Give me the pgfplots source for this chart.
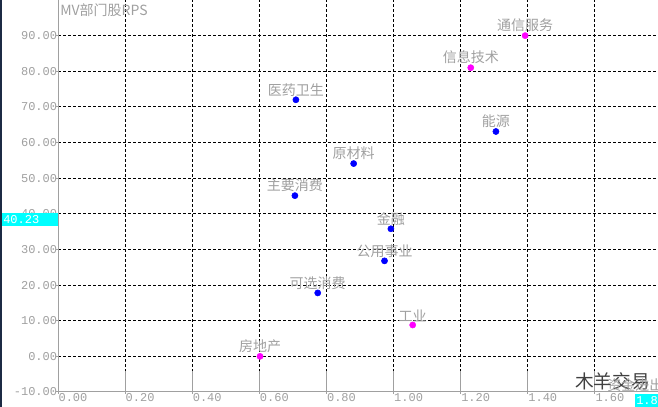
\documentclass[border=0pt]{standalone}
\usepackage{pgfplots}
\pgfplotsset{compat=1.18}
\usepackage{pgfplotstable}
\usepackage{fontspec}
\setmainfont{Liberation Sans}
\newfontfamily\cjk{Noto Sans CJK SC}
\newfontfamily\mono{Liberation Mono}
\definecolor{lbl}{HTML}{A0A0A0}
\definecolor{navy}{HTML}{1C2A44}
\definecolor{mblue}{HTML}{0000FF}
\definecolor{mmag}{HTML}{FF00FF}
\definecolor{cyanbox}{HTML}{00FFFF}

\pgfplotstableread{
x y label
0.709 72.0 医药卫生
0.881 54.1 原材料
0.706 45.1 主要消费
0.992 35.8 金融
0.973 26.8 公用事业
0.774 17.8 可选消费
1.305 63.1 能源
}\bluedata

\pgfplotstableread{
x y label
0.602 0.0 房地产
1.057 8.8 工业
1.230 81.0 信息技术
1.392 90.0 通信服务
}\magdata

\begin{document}
\begin{tikzpicture}
\fill[white] (0pt,0pt) rectangle (493.5pt,305.25pt);
\useasboundingbox (0pt,0pt) rectangle (493.5pt,305.25pt);
\fill[navy] (0pt,0pt) rectangle (1.5pt,305.25pt);
\begin{axis}[
  at={(43.5pt,11.25pt)}, anchor=south west,
  scale only axis, width=450pt, height=294pt,
  xmin=0, xmax=1.788, ymin=-10, ymax=100,
  xtick={0,0.2,...,1.6},
  ytick={-10,0,...,90},
  axis x line=bottom, axis y line=left,
  axis line style={-, draw=lbl, line width=0.75pt},
  tick style={draw=lbl, line width=0.75pt},
  major tick length=1.5pt, tick align=outside,
  grid=major,
  major grid style={draw=black, line width=0.75pt, dash pattern=on 2.25pt off 1.5pt},
  clip=false,
  /pgf/number format/.cd, fixed, fixed zerofill, precision=2, assume math mode=true,
  /pgfplots/.cd,
  yticklabel style={font=\mono\fontsize{9}{9}\selectfont, text=lbl, anchor=east, xshift=1pt, inner sep=0pt},
  xticklabel style={font=\mono\fontsize{9}{9}\selectfont, text=lbl, anchor=north west, xshift=-0.5pt, yshift=1.5pt, inner sep=0.75pt},
  nodes near coords,
  point meta=explicit symbolic,
  nodes near coords style={font=\cjk\fontsize{10.5}{10.5}\selectfont, text=lbl, anchor=south, inner sep=0pt, yshift=2.5pt},
]
\addplot[only marks, mark=*, mark size=2.3pt, color=mblue] table[x=x, y=y, meta=label] {\bluedata};
\addplot[only marks, mark=*, mark size=2.3pt, color=mmag] table[x=x, y=y, meta=label] {\magdata};
\draw[lbl, line width=0.75pt] (axis cs:0,-10) -- ++(0,-11.25pt);
\draw[lbl, line width=0.75pt] (axis cs:0.2,-10) -- ++(0,-11.25pt);
\draw[lbl, line width=0.75pt] (axis cs:0.4,-10) -- ++(0,-11.25pt);
\draw[lbl, line width=0.75pt] (axis cs:0.6,-10) -- ++(0,-11.25pt);
\draw[lbl, line width=0.75pt] (axis cs:0.8,-10) -- ++(0,-11.25pt);
\draw[lbl, line width=0.75pt] (axis cs:1.0,-10) -- ++(0,-11.25pt);
\draw[lbl, line width=0.75pt] (axis cs:1.2,-10) -- ++(0,-11.25pt);
\draw[lbl, line width=0.75pt] (axis cs:1.4,-10) -- ++(0,-11.25pt);
\draw[lbl, line width=0.75pt] (axis cs:1.6,-10) -- ++(0,-11.25pt);
\end{axis}
\begin{scope}[x=0.75pt,y=0.75pt]
% title
\node[anchor=north west, inner sep=0pt, text=lbl, font=\cjk\fontsize{10.5}{10.5}\selectfont] at (60,404) {MV部门股RPS};
% watermark
\node[anchor=south west, inner sep=0pt, text=black!75, font=\cjk\fontsize{14}{14}\selectfont] at (575,17) {木羊交易};
% x axis title
\node[anchor=south west, inner sep=0pt, text=lbl, font=\cjk\fontsize{10.5}{10.5}\selectfont] at (607,15) {资金进出};
% cursor boxes
\fill[cyanbox] (2,181) rectangle (58,194);
\node[anchor=west, inner sep=0pt, text=white, font=\mono\fontsize{9}{9}\selectfont] at (3,187.5) {40.23};
\fill[cyanbox] (635,0) rectangle (658,13);
\node[anchor=west, inner sep=0pt, text=white, font=\mono\fontsize{9}{9}\selectfont] at (636,6.5) {1.80};
\end{scope}
\end{tikzpicture}
\end{document}
